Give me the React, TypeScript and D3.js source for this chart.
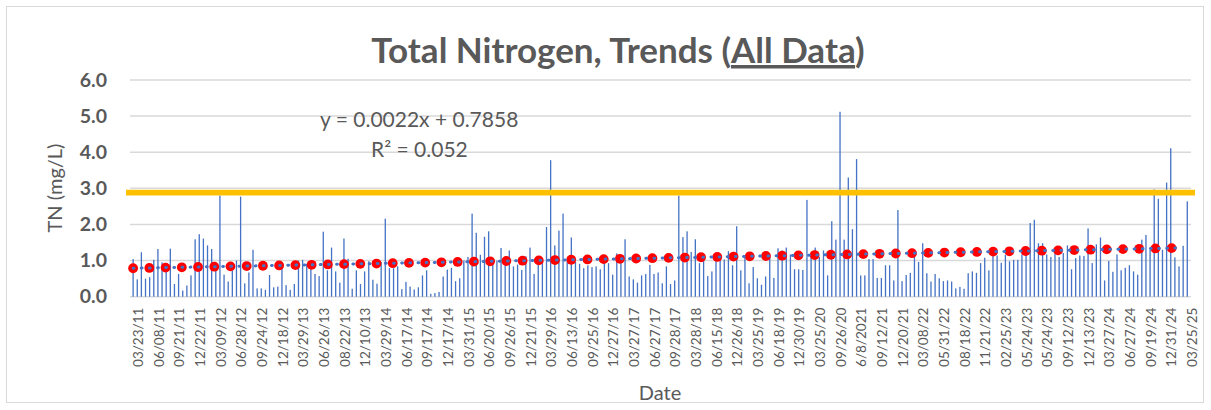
import React, { useRef, useEffect } from "react";
import * as d3 from "d3";

// TN sample values (mg/L), one per sampling date, read left to right
const tnValues = [
  1.04, 0.48, 1.23, 0.50, 0.54, 1.02, 1.32, 0.95, 0.75, 1.33,
  0.35, 0.63, 0.17, 0.31, 0.59, 1.59, 1.73, 1.61, 1.42, 1.32,
  0.82, 2.80, 0.61, 0.42, 0.73, 1.00, 2.77, 0.37, 0.67, 1.30,
  0.23, 0.23, 0.19, 0.60, 0.26, 0.28, 0.82, 0.32, 0.19, 0.35,
  1.00, 1.02, 0.91, 0.91, 0.63, 0.57, 1.80, 0.73, 1.36, 0.70,
  0.39,
  1.61, 1.05, 0.22, 0.73, 0.35, 0.70, 0.98, 0.47, 0.36, 0.96,
  2.16, 0.79, 0.79, 0.84, 0.21, 0.41, 0.28, 0.20, 0.26, 0.59,
  0.73, 0.08, 0.10, 0.13, 0.56, 0.75, 0.80, 0.43, 0.51, 1.00,
  1.10, 2.30, 1.77, 1.16, 1.66, 1.81, 0.91, 1.00, 1.35, 1.00,
  1.28, 0.84, 0.89, 0.74, 1.12, 1.36, 0.63, 0.96, 0.95, 1.93,
  3.78,
  1.42, 1.83, 2.30, 0.96, 1.64, 0.96, 0.91, 0.79, 0.87, 0.82,
  0.84, 0.76, 0.98, 0.93, 0.61, 1.20, 1.14, 1.59, 0.56, 0.48,
  0.39, 0.59, 0.63, 0.88, 0.63, 0.67, 0.37, 0.84, 0.35, 0.45,
  2.80, 1.65, 1.81, 1.24, 1.59, 0.93, 1.00, 0.57, 0.70, 1.00,
  1.03, 1.03, 1.26, 0.87, 1.95, 0.73, 1.10, 0.37, 0.82, 0.51,
  0.33, 0.56,
  1.10, 0.52, 1.34, 1.28, 1.36, 1.17, 0.76, 0.76, 0.74, 2.68,
  1.10, 1.36, 1.10, 1.28, 0.59, 2.09, 1.58, 5.12, 1.58, 3.30,
  1.87, 3.81, 0.59, 0.59, 1.04, 1.04, 0.52, 0.52, 0.87, 0.87,
  0.45, 2.40, 0.43, 0.60, 0.66, 1.10, 0.96, 1.48, 0.65, 0.42,
  0.63, 0.51, 0.43, 0.45, 0.42, 0.23, 0.27, 0.22, 0.65, 0.70,
  0.66,
  0.93, 1.08, 0.73, 1.13, 1.14, 0.94, 1.16, 0.98, 1.02, 1.02,
  1.17, 1.19, 2.04, 2.13, 1.48, 1.48, 1.17, 1.10, 1.21, 1.10,
  1.21, 1.42, 0.76, 1.07, 1.14, 1.13, 1.89, 0.93, 1.45, 1.64,
  0.45, 0.99, 0.69, 1.17, 0.73, 0.80, 0.87, 0.70, 0.61, 1.58,
  1.71, 1.30, 2.97, 2.71, 1.30, 3.16, 4.11, 1.09, 0.84, 1.41,
  2.64,
];

// every 5th sampling date is labelled on the axis
const dateLabels = [
  "03/23/11", "06/08/11", "09/21/11", "12/22/11", "03/09/12", "06/28/12",
  "09/24/12", "12/18/12", "03/29/13", "06/26/13", "08/22/13", "12/10/13",
  "03/29/14", "06/17/14", "09/17/14", "12/17/14", "03/31/15", "06/20/15",
  "09/26/15", "12/21/15", "03/29/16", "06/13/16", "09/25/16", "12/27/16",
  "03/27/17", "06/27/17", "09/28/17", "03/28/18", "06/15/18", "12/26/18",
  "03/25/19", "06/18/19", "12/30/19", "03/25/20", "09/26/20", "6/8/2021",
  "09/12/21", "12/20/21", "03/08/22", "05/31/22", "08/18/22", "11/21/22",
  "02/25/23", "05/24/23", "05/24/23", "09/12/23", "12/13/23", "03/27/24",
  "06/27/24", "09/19/24", "12/31/24", "03/25/25",
];
const labelEvery = 5;

const yTicks = [0, 1, 2, 3, 4, 5, 6];

// linear trendline as printed on the chart
const trendSlope = 0.0022;
const trendIntercept = 0.7858;
const trendR2 = "0.052";
const trendMarkerCount = 65;
const trendMarkerStep = 3.95;
const trendEndCategory = 253.4;

const threshold = 2.88;

const W = 1211;
const H = 410;
const grey = "#595959";
const font = "Lato, 'Open Sans', sans-serif";

const App = () => {
  const svgRef = useRef(null);

  useEffect(() => {
    const svg = d3.select(svgRef.current);
    svg.selectAll("*").remove();

    const n = tnValues.length;
    const x = d3.scaleBand().domain(d3.range(n)).range([129.6, 1190.8]).padding(0.7);
    const xc = (i) => x(i) + x.bandwidth() / 2;
    const catX = d3.scaleLinear().domain([0, n - 1]).range([xc(0), xc(n - 1)]);
    const trendToCat = d3.scaleLinear().domain([1, n]).range([0, trendEndCategory]);
    const y = d3.scaleLinear().domain([0, 6]).range([296.7, 80]);
    const [left, right] = [130, 1191];

    // chart border
    svg.append("rect")
      .attr("x", 6.5).attr("y", 6.5)
      .attr("width", W - 14).attr("height", H - 14)
      .attr("fill", "#fff").attr("stroke", "#d9d9d9");

    // title
    const title = svg.append("text")
      .attr("x", 618).attr("y", 63)
      .attr("text-anchor", "middle")
      .attr("fill", grey)
      .style("font-family", font).style("font-weight", 700).style("font-size", "35px");
    title.append("tspan").text("Total Nitrogen, Trends (");
    title.append("tspan").attr("text-decoration", "underline").text("All Data");
    title.append("tspan").text(")");

    // gridlines
    svg.append("g").selectAll("line")
      .data(yTicks)
      .enter()
      .append("line")
      .attr("x1", left).attr("x2", right)
      .attr("y1", d => y(d)).attr("y2", d => y(d))
      .attr("stroke", "#d9d9d9").attr("stroke-width", 1.5);

    // y axis labels
    const yAxis = svg.append("g")
      .attr("transform", `translate(${left},0)`)
      .call(d3.axisLeft(y).tickValues(yTicks).tickFormat(d3.format(".1f")).tickSize(0).tickPadding(23));
    yAxis.select(".domain").remove();
    yAxis.selectAll("text")
      .attr("fill", grey)
      .style("font-family", font).style("font-weight", 700).style("font-size", "19.5px");

    // x axis labels
    const xAxis = svg.append("g")
      .attr("transform", `translate(0,${y(0)})`)
      .call(d3.axisBottom(x)
        .tickValues(d3.range(0, n, labelEvery))
        .tickFormat(i => dateLabels[i / labelEvery])
        .tickSize(0));
    xAxis.select(".domain").remove();
    xAxis.selectAll("text")
      .attr("transform", "rotate(-90)")
      .attr("text-anchor", "end")
      .attr("x", -11).attr("y", 5)
      .attr("dy", "0.35em")
      .attr("fill", grey)
      .style("font-family", font).style("font-size", "13.5px");

    // bars
    svg.append("g").selectAll("rect")
      .data(tnValues)
      .enter()
      .append("rect")
      .attr("x", (_, i) => xc(i) - 0.65)
      .attr("width", 1.3)
      .attr("y", d => y(d))
      .attr("height", d => y(0) - y(d))
      .attr("fill", "#4472C4");

    // threshold line
    svg.append("line")
      .attr("x1", left - 4).attr("x2", right + 4)
      .attr("y1", y(threshold)).attr("y2", y(threshold))
      .attr("stroke", "#FFC000").attr("stroke-width", 5.7);

    // trend markers
    const trendAt = (t) => trendIntercept + trendSlope * t;
    const markerT = d3.range(trendMarkerCount).map(k => 1 + k * trendMarkerStep);
    svg.append("g").selectAll("circle")
      .data(markerT)
      .enter()
      .append("circle")
      .attr("cx", t => catX(trendToCat(t)))
      .attr("cy", t => y(trendAt(t)))
      .attr("r", 4.9)
      .attr("fill", "#FF0000");

    // dotted trendline
    svg.append("line")
      .attr("x1", catX(trendToCat(1))).attr("y1", y(trendAt(1)))
      .attr("x2", catX(trendToCat(n))).attr("y2", y(trendAt(n)))
      .attr("stroke", "#4472C4").attr("stroke-width", 3)
      .attr("stroke-linecap", "round")
      .attr("stroke-dasharray", "0.8 7.34");

    // equation labels
    svg.append("text")
      .attr("x", 320).attr("y", 127)
      .attr("fill", grey)
      .style("font-family", font).style("font-size", "21px")
      .text(`y = ${trendSlope}x + ${trendIntercept}`);
    svg.append("text")
      .attr("x", 371).attr("y", 157)
      .attr("fill", grey)
      .style("font-family", font).style("font-size", "21px")
      .text(`R² = ${trendR2}`);

    // axis titles
    svg.append("text")
      .attr("transform", "translate(62,188) rotate(-90)")
      .attr("text-anchor", "middle")
      .attr("fill", grey)
      .style("font-family", font).style("font-size", "20px")
      .text("TN (mg/L)");
    svg.append("text")
      .attr("x", 660).attr("y", 400)
      .attr("text-anchor", "middle")
      .attr("fill", grey)
      .style("font-family", font).style("font-size", "20px")
      .text("Date");
  }, []);

  return (
    <svg ref={svgRef} width={W} height={H}
      style={{ position: "absolute", left: 0, top: 0, background: "#fff" }} />
  );
};

export default App;
